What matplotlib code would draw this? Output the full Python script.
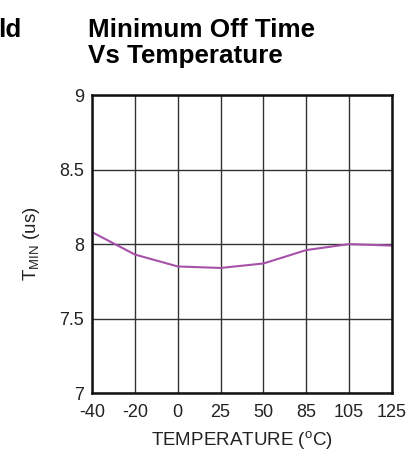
import matplotlib.pyplot as plt

plt.rcParams['font.family'] = ['Liberation Sans', 'DejaVu Sans']

temps = ["-40", "-20", "0", "25", "50", "85", "105", "125"]
t_min = [8.08, 7.93, 7.85, 7.84, 7.87, 7.96, 8.0, 7.99]
y_ticks = [7, 7.5, 8, 8.5, 9]
y_labels = ["7", "7.5", "8", "8.5", "9"]

fig = plt.figure(figsize=(4.13, 4.55), dpi=100)
ax = fig.add_axes([0.223, 0.136, 0.726, 0.655])

x = list(range(len(temps)))
ax.plot(x, t_min, color='#a650a8', linewidth=1.5)

ax.set_xlim(0, len(temps) - 1)
ax.set_ylim(7, 9)
ax.set_xticks(x)
ax.set_xticklabels(temps)
ax.set_yticks(y_ticks)
ax.set_yticklabels(y_labels)
ax.tick_params(length=0, labelsize=13, colors='#222222')
ax.tick_params(axis='x', pad=8)
ax.tick_params(axis='y', pad=6)
ax.grid(True, color='#333333', linewidth=1.0)
for s in ax.spines.values():
    s.set_linewidth(1.8)
    s.set_color('#111111')

ax.set_ylabel(r'T$_{\mathregular{MIN}}$ (us)', fontsize=13.5, color='#222222', labelpad=12)
ax.set_xlabel(r'TEMPERATURE ($^{\mathregular{o}}$C)', fontsize=13.5, color='#222222', labelpad=6)

fig.text(0.213, 0.96, 'Minimum Off Time\nVs Temperature', fontsize=18.7,
         fontweight='bold', ha='left', va='top', linespacing=1.1)
fig.text(-0.005, 0.96, 'ld', fontsize=18.7, fontweight='bold', ha='left', va='top')

fig.savefig('out.png', dpi=100)
